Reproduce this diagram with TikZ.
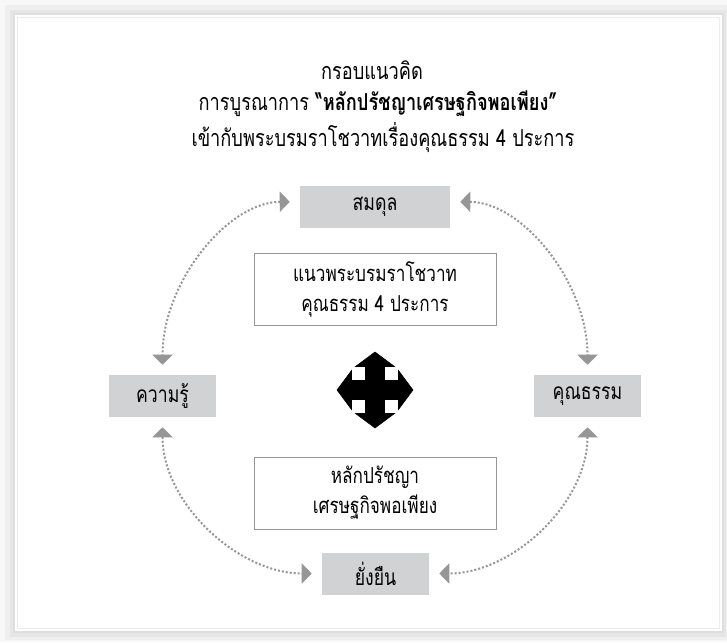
\documentclass[tikz,border=0pt]{standalone}
\usepackage{fontspec}
\setmainfont[Script=Thai, FakeStretch=0.78]{Loma}
\usepackage{tikz}
\usetikzlibrary{arrows.meta}
\usepackage{xcolor}

\tikzset{
  greybox/.style={fill={rgb, 255:red, 209; green, 210; blue, 212 }, minimum width=80.25pt, minimum height=31.5pt, inner sep=0pt, font=\fontsize{17}{20}\selectfont},
  whitebox/.style={draw={rgb, 255:red, 150; green, 150; blue, 150 }, line width=0.75pt, fill=white, minimum width=181.5pt, minimum height=54pt, inner sep=0pt, align=center, font=\fontsize{16.5}{22.5}\selectfont},
  titletext/.style={inner sep=0.75pt, font=\fontsize{17.5}{20}\selectfont},
  dotarrow/.style={draw={rgb, 255:red, 150; green, 150; blue, 150 }, line width=1.5pt, dash pattern=on 1.5pt off 1.5pt, {Triangle[width=15pt,length=7.5pt]}-{Triangle[width=15pt,length=7.5pt]}, shorten >=7.5pt, shorten <=7.5pt}
}

\begin{document}
\begin{tikzpicture}[x=0.75pt,y=0.75pt,yscale=-1,xscale=1]
\useasboundingbox (0,0) rectangle (727,642);

%Shape: Frame shadow
\fill [color={rgb, 255:red, 247; green, 247; blue, 247 }] (0,0) rectangle (727,642);
\fill [color={rgb, 255:red, 239; green, 239; blue, 239 }] (5,5) rectangle (727,640);
\fill [color={rgb, 255:red, 230; green, 230; blue, 230 }] (10,10) rectangle (726,637);
%Shape: Frame
\draw [draw={rgb, 255:red, 222; green, 222; blue, 222 }, fill=white, line width=1.5pt] (14,14) rectangle (723,632);
\draw [draw={rgb, 255:red, 236; green, 236; blue, 236 }, line width=0.75pt] (17.5,17.5) rectangle (719.5,628.5);

% Text Node
\draw (372,70) node [titletext] (title1) {กรอบแนวคิด};
% Text Node
\draw (378,104) node [titletext] (title2) {การบูรณาการ \textbf{“หลักปรัชญาเศรษฐกิจพอเพียง”}};
% Text Node
\draw (383,138) node [titletext] (title3) {เข้ากับพระบรมราโชวาทเรื่องคุณธรรม 4 ประการ};

%Shape: Rectangle
\draw (375,207) node [greybox, minimum width=112.5pt] (samdul) {สมดุล};
%Shape: Rectangle
\draw (162.5,396) node [greybox] (khwamru) {ความรู้};
%Shape: Rectangle
\draw (587.5,396) node [greybox] (khunatham) {คุณธรรม};
%Shape: Rectangle
\draw (375.5,573.5) node [greybox] (yangyuen) {ยั่งยืน};

%Shape: Rectangle
\draw (375,289) node [whitebox] (phraborom) {แนวพระบรมราโชวาท\\คุณธรรม 4 ประการ};
%Shape: Rectangle
\draw (375,493) node [whitebox] (lakprat) {หลักปรัชญา\\เศรษฐกิจพอเพียง};

%Shape: Four way arrow
\draw [fill={rgb, 255:red, 0; green, 0; blue, 0 }] (375,352) -- (394.5,366.5) -- (384.5,366.5) -- (384.5,380.5) -- (398.5,380.5) -- (398.5,370.5) -- (413,390) -- (398.5,409.5) -- (398.5,399.5) -- (384.5,399.5) -- (384.5,413.5) -- (394.5,413.5) -- (375,428) -- (355.5,413.5) -- (365.5,413.5) -- (365.5,399.5) -- (351.5,399.5) -- (351.5,409.5) -- (337,390) -- (351.5,370.5) -- (351.5,380.5) -- (365.5,380.5) -- (365.5,366.5) -- (355.5,366.5) -- cycle ;

%Curve Lines
\draw [dotarrow] (samdul.176) .. controls (228,202) and (162.5,282) .. (khwamru.north) ;
\draw [dotarrow] (samdul.4) .. controls (522,202) and (587.5,282) .. (khunatham.north) ;
\draw [dotarrow] (khwamru.south) .. controls (162.5,503) and (238,573.5) .. (yangyuen.west) ;
\draw [dotarrow] (khunatham.south) .. controls (587.5,503) and (513,573.5) .. (yangyuen.east) ;

\end{tikzpicture}
\end{document}
